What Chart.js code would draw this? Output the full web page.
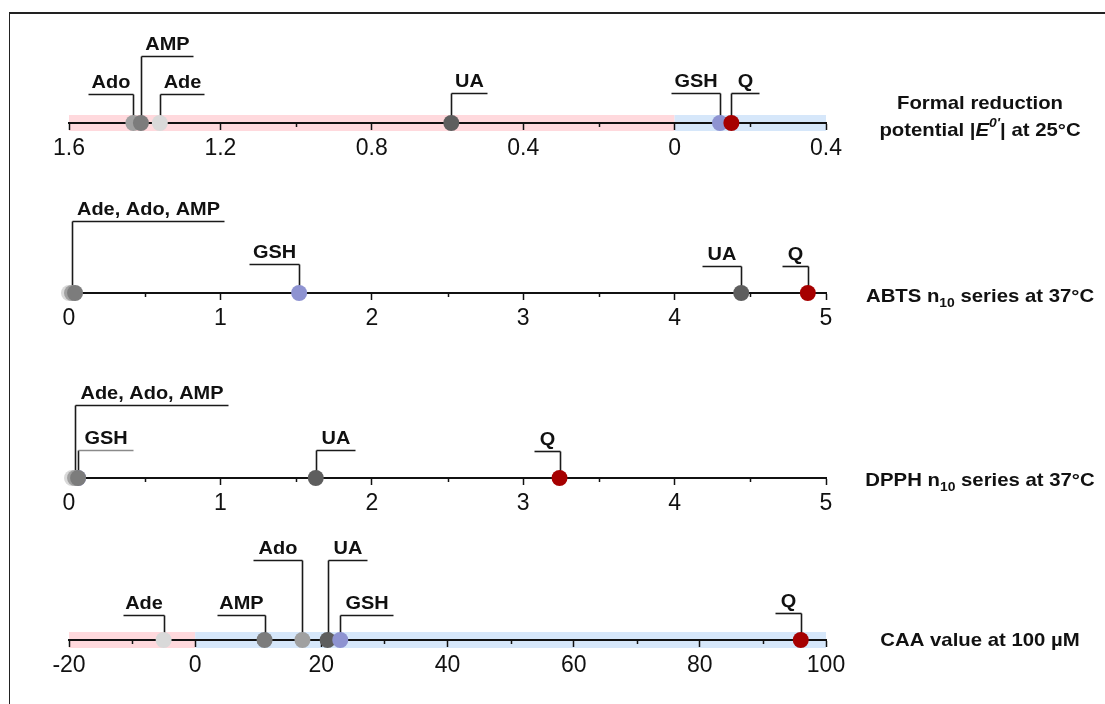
<!DOCTYPE html>
<html>
<head>
<meta charset="utf-8">
<script src="https://cdn.jsdelivr.net/npm/chart.js@4.4.1/dist/chart.umd.min.js"></script>
<style>
  html, body { margin: 0; padding: 0; background: #fff; width: 1105px; height: 704px; overflow: hidden; }
  #frame { position: absolute; left: 9px; top: 12px; width: 1096px; height: 692px; border-top: 2px solid #222; border-left: 1px solid #222; box-sizing: border-box; }
  canvas { position: absolute; left: 0; }
</style>
</head>
<body>
<div id="frame"></div>
<canvas id="c0" width="1105" height="150" style="top:13px"></canvas>
<canvas id="c1" width="1105" height="150" style="top:183px"></canvas>
<canvas id="c2" width="1105" height="150" style="top:368px"></canvas>
<canvas id="c3" width="1105" height="150" style="top:530px"></canvas>
<script>
// ---------------- DATA ----------------
const compounds = ['Ade', 'Ado', 'AMP', 'UA', 'GSH', 'Q'];

// Formal reduction potential E0' (signed; left part shown as |E0'|)
const potentialValues = [-1.36, -1.43, -1.41, -0.59, 0.12, 0.15];
// ABTS n10 series at 37°C
const abtsValues = [0.00, 0.02, 0.04, 4.44, 1.52, 4.88];
// DPPH n10 series at 37°C
const dpphValues = [0.02, 0.04, 0.06, 1.63, 0.06, 3.24];
// CAA value at 100 µM
const caaValues = [-5, 17, 11, 21, 23, 96];

// tick labels
const potentialTicks = ['1.6', '1.2', '0.8', '0.4', '0', '0.4'];
const abtsTicks = ['0', '1', '2', '3', '4', '5'];
const dpphTicks = ['0', '1', '2', '3', '4', '5'];
const caaTicks = ['-20', '0', '20', '40', '60', '80', '100'];

// shaded ranges (axis values)
const potentialBands = [[-1.6, 0], [0, 0.4]];
const caaBands = [[-20, 0], [0, 100]];

// label groups
const potentialGroups = [['Ado'], ['AMP'], ['Ade'], ['UA'], ['GSH'], ['Q']];
const abtsGroups = [['Ade', 'Ado', 'AMP'], ['GSH'], ['UA'], ['Q']];
const dpphGroups = [['Ade', 'Ado', 'AMP'], ['GSH'], ['UA'], ['Q']];
const caaGroups = [['Ade'], ['AMP'], ['Ado'], ['UA'], ['GSH'], ['Q']];

// ---------------- STYLE / LAYOUT ----------------
const colors = { Ade: '#D9D9D9', Ado: '#A0A0A0', AMP: '#7C7C7C', UA: '#5E5E5E', GSH: '#8E93D1', Q: '#A60000' };
const bandColors = ['#FFD9DD', '#D6E7FA'];
const FONT = "'Liberation Sans', Arial, Helvetica, sans-serif";

// leader layout per group: [rise above axis px, side, horizontal length px, line colour]
const potentialLeaders = [[29, 'L', 45], [67, 'R', 52], [29, 'R', 44], [30, 'R', 36], [30, 'L', 49], [30, 'R', 28]];
const abtsLeaders = [[72, 'R', 152], [29, 'L', 50], [27, 'L', 39], [27, 'L', 26]];
const dpphLeaders = [[73, 'R', 153], [28, 'R', 55, '#8a8a8a'], [28, 'R', 39], [27, 'L', 26]];
const caaLeaders = [[25, 'L', 41], [25, 'L', 48], [80, 'L', 49], [80, 'R', 39], [25, 'R', 53], [27, 'L', 26]];

function makeDecor(cfg) {
  return {
    id: 'decor',
    beforeDraw(chart) {
      const { ctx, chartArea } = chart;
      const xs = chart.scales.x;
      const yb = chartArea.bottom;
      (cfg.bands || []).forEach((b, i) => {
        const x0 = xs.getPixelForValue(b[0]);
        const x1 = xs.getPixelForValue(b[1]);
        ctx.fillStyle = bandColors[i];
        ctx.fillRect(x0, yb - 8, x1 - x0, 16);
      });
    },
    beforeDatasetsDraw(chart) {
      const { ctx, chartArea } = chart;
      const xs = chart.scales.x;
      const yb = chartArea.bottom;
      ctx.save();
      // minor ticks
      ctx.strokeStyle = '#111';
      ctx.lineWidth = 1.5;
      const n = Math.round((cfg.max - cfg.min) / cfg.minor);
      const ratio = Math.round(cfg.step / cfg.minor);
      for (let k = 0; k <= n; k++) {
        if (k % ratio === 0) continue;
        const x = Math.round(xs.getPixelForValue(cfg.min + k * cfg.minor)) + 0.5;
        ctx.beginPath(); ctx.moveTo(x, yb); ctx.lineTo(x, yb + 4); ctx.stroke();
      }
      // leaders
      cfg.groups.forEach((g, i) => {
        const vals = g.map(nm => cfg.values[compounds.indexOf(nm)]);
        const anchor = vals.reduce((a, b) => a + b, 0) / vals.length;
        const [rise, side, len, col] = cfg.leaders[i];
        const x = Math.round(xs.getPixelForValue(anchor)) + 0.5;
        const yt = Math.round(yb - rise) + 0.5;
        const x2 = side === 'L' ? x - len : x + len;
        ctx.lineWidth = 1.6;
        ctx.strokeStyle = '#1a1a1a';
        ctx.beginPath(); ctx.moveTo(x, yb); ctx.lineTo(x, yt); ctx.stroke();
        ctx.strokeStyle = col || '#1a1a1a';
        ctx.beginPath(); ctx.moveTo(x, yt); ctx.lineTo(x2, yt); ctx.stroke();
        const xc = (x + x2) / 2;
        ctx.save();
        ctx.translate(xc, yt - 7);
        ctx.scale(1.05, 1);
        ctx.font = 'bold 19px ' + FONT;
        ctx.fillStyle = '#111';
        ctx.textAlign = 'center';
        ctx.textBaseline = 'alphabetic';
        ctx.fillText(g.join(', '), 0, 0);
        ctx.restore();
      });
      // title
      cfg.title.forEach(line => {
        const [dy, segs] = line;
        const sx = 1.07;
        const fontFor = s => {
          if (s.k === 'sub' || s.k === 'sup') return (s.i ? 'italic ' : '') + 'bold 13px ' + FONT;
          return (s.i ? 'italic ' : '') + 'bold 19px ' + FONT;
        };
        let total = 0;
        segs.forEach(s => { ctx.font = fontFor(s); total += ctx.measureText(s.t).width * sx; });
        let cx = 980 - total / 2;
        const y = yb + dy;
        segs.forEach(s => {
          ctx.font = fontFor(s);
          const w = ctx.measureText(s.t).width * sx;
          let oy = 0;
          if (s.k === 'sub') oy = 6;
          if (s.k === 'sup') oy = -8;
          ctx.save();
          ctx.translate(cx, y + oy);
          ctx.scale(sx, 1);
          ctx.fillStyle = '#111';
          ctx.textAlign = 'left';
          ctx.textBaseline = 'middle';
          ctx.fillText(s.t, 0, 0);
          ctx.restore();
          cx += w;
        });
      });
      ctx.restore();
    }
  };
}

function makeRow(id, cfg) {
  const pts = cfg.drawOrder.map(nm => ({ x: cfg.values[compounds.indexOf(nm)], y: 0 }));
  const cols = cfg.drawOrder.map(nm => colors[nm]);
  return new Chart(document.getElementById(id), {
    type: 'scatter',
    data: {
      datasets: [{
        data: pts,
        pointBackgroundColor: cols,
        pointBorderWidth: 0,
        pointRadius: 8,
        pointHoverRadius: 8,
        clip: false
      }]
    },
    options: {
      responsive: false,
      animation: false,
      events: [],
      layout: { padding: { left: 69, right: 279, top: 0, bottom: 0 } },
      plugins: { legend: { display: false }, tooltip: { enabled: false } },
      scales: {
        x: {
          type: 'linear',
          min: cfg.min,
          max: cfg.max,
          afterFit: s => { s.height = 40; },
          grid: { drawOnChartArea: false, drawTicks: true, tickLength: 7, tickColor: '#111', tickWidth: 1.5 },
          border: { display: true, color: '#111', width: 2 },
          ticks: {
            stepSize: cfg.step,
            autoSkip: false,
            maxRotation: 0,
            padding: 5,
            color: '#111',
            font: { family: FONT, size: 23 },
            callback: v => cfg.tickLabels[Math.round((v - cfg.min) / cfg.step)]
          }
        },
        y: { display: false, min: 0, max: 1 }
      }
    },
    plugins: [makeDecor(cfg)]
  });
}

const B = t => ({ t });
const BI = t => ({ t, i: true });

makeRow('c0', {
  values: potentialValues, min: -1.6, max: 0.4, step: 0.4, minor: 0.2,
  tickLabels: potentialTicks, bands: potentialBands,
  groups: potentialGroups, leaders: potentialLeaders,
  drawOrder: ['Ado', 'AMP', 'Ade', 'UA', 'GSH', 'Q'],
  title: [[-19, [B('Formal reduction')]],
          [8, [B('potential |'), BI('E'), { t: "0'", k: 'sup', i: true }, B('| at 25°C')]]]
});
makeRow('c1', {
  values: abtsValues, min: 0, max: 5, step: 1, minor: 0.5,
  tickLabels: abtsTicks, bands: [],
  groups: abtsGroups, leaders: abtsLeaders,
  drawOrder: ['Ade', 'Ado', 'AMP', 'UA', 'GSH', 'Q'],
  title: [[4, [B('ABTS n'), { t: '10', k: 'sub' }, B(' series at 37°C')]]]
});
makeRow('c2', {
  values: dpphValues, min: 0, max: 5, step: 1, minor: 0.5,
  tickLabels: dpphTicks, bands: [],
  groups: dpphGroups, leaders: dpphLeaders,
  drawOrder: ['GSH', 'Ade', 'Ado', 'AMP', 'UA', 'Q'],
  title: [[3, [B('DPPH n'), { t: '10', k: 'sub' }, B(' series at 37°C')]]]
});
makeRow('c3', {
  values: caaValues, min: -20, max: 100, step: 20, minor: 10,
  tickLabels: caaTicks, bands: caaBands,
  groups: caaGroups, leaders: caaLeaders,
  drawOrder: ['Ade', 'AMP', 'Ado', 'UA', 'GSH', 'Q'],
  title: [[1, [B('CAA value at 100 µM')]]]
});
</script>
</body>
</html>
